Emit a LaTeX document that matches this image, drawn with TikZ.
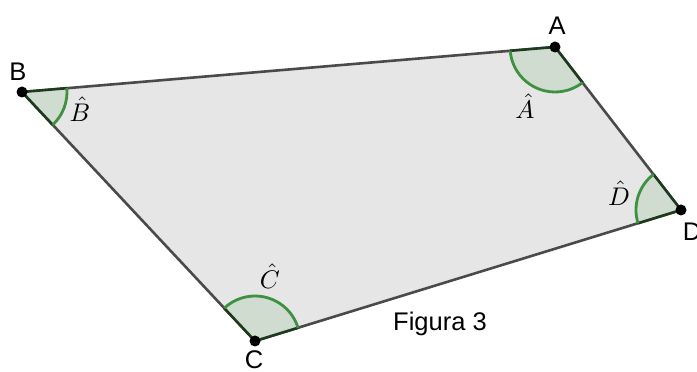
\documentclass[tikz,border=0pt]{standalone}
\usepackage{fontspec}
\setsansfont{Liberation Sans}
\usepackage{amsmath}
\usepackage{graphicx}
\usetikzlibrary{calc}
\definecolor{polyfill}{HTML}{E6E6E6}
\definecolor{edgecol}{HTML}{4A4A4A}
\definecolor{secfill}{HTML}{CFDCCF}
\definecolor{secedge}{HTML}{1E3A1E}
\definecolor{arccol}{HTML}{3E9140}
\newcommand{\anglab}[1]{\scalebox{2.55}{$\hat{#1}$}}
\tikzset{
  edge/.style={draw=edgecol, line width=2.6pt},
  sectorfill/.style={fill=secfill},
  sectorside/.style={draw=secedge, line width=2.6pt},
  sectorarc/.style={draw=arccol, line width=2.8pt},
  ptlabel/.style={font=\sffamily\fontsize{25.5}{28}\selectfont, inner sep=0pt},
  anglabel/.style={inner sep=0pt},
  dot/.style={fill=black}
}
\begin{document}
\begin{tikzpicture}[x=1pt,y=1pt]
\useasboundingbox (0,0) rectangle (697,372);
\coordinate (A) at (555,325);
\coordinate (B) at (22,280);
\coordinate (C) at (255,31);
\coordinate (D) at (681,162);
% polygon
\fill[polyfill] (A) -- (B) -- (C) -- (D) -- cycle;
\draw[edge] (A) -- (B);
\draw[edge] (B) -- (C);
\draw[edge] (C) -- (D);
\draw[edge] (D) -- (A);
% sectors
\fill[sectorfill] (A) -- ++(184.83:45) arc[start angle=184.83, end angle=307.70, radius=45] -- cycle;
\fill[sectorfill] (B) -- ++(-46.90:45) arc[start angle=-46.90, end angle=4.83, radius=45] -- cycle;
\fill[sectorfill] (C) -- ++(17.09:45) arc[start angle=17.09, end angle=133.10, radius=45] -- cycle;
\fill[sectorfill] (D) -- ++(127.70:45) arc[start angle=127.70, end angle=197.09, radius=45] -- cycle;
\draw[sectorside] ($(A)+(184.83:45)$) -- (A) -- ($(A)+(307.70:45)$);
\draw[sectorside] ($(B)+(-46.90:45)$) -- (B) -- ($(B)+(4.83:45)$);
\draw[sectorside] ($(C)+(17.09:45)$) -- (C) -- ($(C)+(133.10:45)$);
\draw[sectorside] ($(D)+(127.70:45)$) -- (D) -- ($(D)+(197.09:45)$);
\draw[sectorarc] ($(A)+(184.83:45)$) arc[start angle=184.83, end angle=307.70, radius=45];
\draw[sectorarc] ($(B)+(-46.90:45)$) arc[start angle=-46.90, end angle=4.83, radius=45];
\draw[sectorarc] ($(C)+(17.09:45)$) arc[start angle=17.09, end angle=133.10, radius=45];
\draw[sectorarc] ($(D)+(127.70:45)$) arc[start angle=127.70, end angle=197.09, radius=45];
% points
\fill[dot] (A) circle[radius=5.5];
\fill[dot] (B) circle[radius=5.5];
\fill[dot] (C) circle[radius=5.5];
\fill[dot] (D) circle[radius=5.5];
% labels
\node[ptlabel] (lA) at (557,346) {A};
\node[ptlabel] (lB) at (18,300) {B};
\node[ptlabel] (lC) at (254,12) {C};
\node[ptlabel] (lD) at (692,140) {D};
\node[anglabel] (aA) at (525,266) {\anglab{A}};
\node[anglabel] (aB) at (80,263) {\anglab{B}};
\node[anglabel] (aC) at (270,96) {\anglab{C}};
\node[anglabel] (aD) at (619,179) {\anglab{D}};
\node[ptlabel] (fig) at (440,48) {Figura 3};
\end{tikzpicture}
\end{document}
